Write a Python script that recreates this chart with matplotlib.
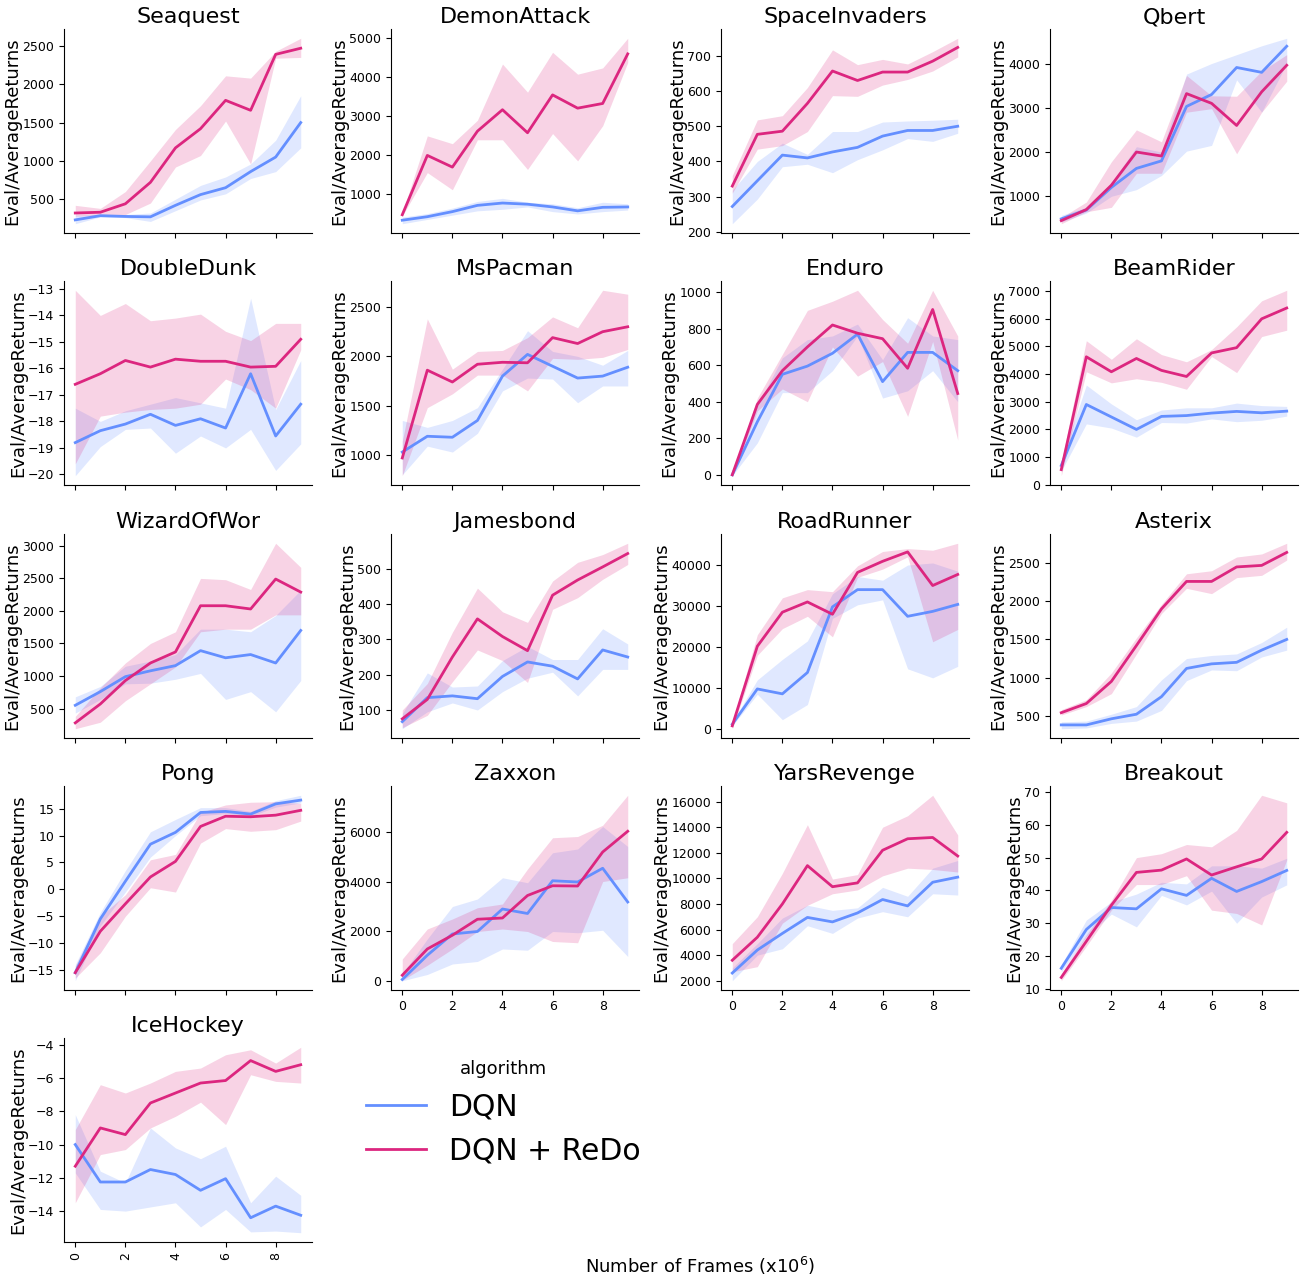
import matplotlib
matplotlib.use("Agg")
import matplotlib.pyplot as plt
from matplotlib.ticker import MultipleLocator

plt.rcParams['font.family'] = ['DejaVu Sans']

frames = list(range(10))
games = ["Seaquest", "DemonAttack", "SpaceInvaders", "Qbert",
         "DoubleDunk", "MsPacman", "Enduro", "BeamRider",
         "WizardOfWor", "Jamesbond", "RoadRunner", "Asterix",
         "Pong", "Zaxxon", "YarsRevenge", "Breakout",
         "IceHockey"]
algorithms = ["DQN", "DQN + ReDo"]
colors = {"DQN": "#648FFF", "DQN + ReDo": "#DC267F"}
ytick_step = {"Seaquest": 500, "DemonAttack": 1000, "SpaceInvaders": 100, "Qbert": 1000,
              "DoubleDunk": 1, "MsPacman": 500, "Enduro": 200, "BeamRider": 1000,
              "WizardOfWor": 500, "Jamesbond": 100, "RoadRunner": 10000, "Asterix": 500,
              "Pong": 5, "Zaxxon": 2000, "YarsRevenge": 2000, "Breakout": 10,
              "IceHockey": 2}

# ---- per-game data: mean, low, high for each algorithm ----
seaquest_dqn = [230, 285, 275, 270, 420, 560, 650, 860, 1050, 1500]
seaquest_dqn_lo = [180, 270, 260, 210, 350, 490, 570, 770, 860, 1170]
seaquest_dqn_hi = [290, 300, 300, 320, 500, 680, 790, 960, 1270, 1850]
seaquest_redo = [320, 330, 440, 720, 1170, 1420, 1790, 1660, 2390, 2470]
seaquest_redo_lo = [280, 290, 300, 450, 920, 1070, 1520, 960, 2340, 2350]
seaquest_redo_hi = [420, 380, 600, 1000, 1410, 1720, 2110, 2080, 2430, 2600]

demon_dqn = [340, 430, 560, 720, 780, 750, 680, 580, 670, 680]
demon_dqn_lo = [250, 360, 470, 580, 620, 680, 560, 500, 560, 600]
demon_dqn_hi = [420, 510, 650, 820, 900, 800, 760, 660, 800, 760]
demon_redo = [480, 2000, 1700, 2620, 3170, 2580, 3550, 3210, 3330, 4600]
demon_redo_lo = [450, 1560, 1120, 2400, 2400, 1640, 2560, 1860, 2760, 4380]
demon_redo_hi = [520, 2500, 2300, 2900, 4340, 3620, 4640, 4080, 4240, 5000]

space_dqn = [272, 345, 418, 410, 427, 440, 472, 488, 488, 500]
space_dqn_lo = [223, 293, 385, 392, 368, 405, 433, 465, 457, 480]
space_dqn_hi = [318, 400, 452, 420, 485, 485, 512, 515, 517, 520]
space_redo = [330, 477, 486, 565, 657, 630, 654, 654, 685, 724]
space_redo_lo = [310, 435, 445, 485, 587, 585, 617, 633, 657, 697]
space_redo_hi = [360, 518, 530, 610, 717, 675, 690, 677, 712, 750]

qbert_dqn = [490, 690, 1200, 1630, 1800, 3030, 3300, 3910, 3800, 4390]
qbert_dqn_lo = [420, 620, 1000, 1150, 1470, 2020, 2150, 3630, 2900, 4000]
qbert_dqn_hi = [570, 750, 1300, 2120, 2000, 3760, 4000, 4200, 4400, 4570]
qbert_redo = [450, 700, 1250, 2000, 1910, 3320, 3100, 2600, 3360, 3960]
qbert_redo_lo = [380, 650, 750, 1520, 1520, 2900, 2980, 1960, 2900, 3600]
qbert_redo_hi = [520, 870, 1780, 2500, 2230, 3730, 3270, 3260, 3830, 4200]

dunk_dqn = [-18.8, -18.35, -18.1, -17.73, -18.15, -17.9, -18.25, -16.2, -18.55, -17.35]
dunk_dqn_lo = [-20.05, -18.95, -18.3, -18.25, -19.2, -18.55, -19.0, -18.3, -19.85, -18.85]
dunk_dqn_hi = [-17.5, -18.0, -17.6, -17.35, -17.1, -17.3, -17.5, -13.35, -17.55, -15.7]
dunk_redo = [-16.6, -16.2, -15.7, -15.95, -15.65, -15.73, -15.73, -15.95, -15.92, -14.9]
dunk_redo_lo = [-19.6, -17.8, -17.65, -17.55, -17.5, -17.35, -16.4, -16.8, -17.5, -15.3]
dunk_redo_hi = [-13.05, -14.0, -13.55, -14.2, -14.1, -13.95, -14.6, -14.95, -14.3, -14.3]

pacman_dqn = [1030, 1190, 1180, 1350, 1800, 2020, 1900, 1780, 1800, 1890]
pacman_dqn_lo = [800, 1090, 1030, 1220, 1650, 1780, 1770, 1530, 1700, 1700]
pacman_dqn_hi = [1350, 1280, 1350, 1480, 1870, 2260, 2050, 2000, 1910, 2060]
pacman_redo = [970, 1860, 1740, 1920, 1940, 1935, 2190, 2130, 2250, 2300]
pacman_redo_lo = [790, 1480, 1620, 1810, 1810, 1650, 1980, 1970, 1990, 2070]
pacman_redo_hi = [1140, 2380, 1870, 2050, 2060, 2190, 2400, 2290, 2670, 2630]

enduro_dqn = [0, 290, 550, 595, 665, 770, 510, 670, 670, 570]
enduro_dqn_lo = [-5, 175, 450, 450, 570, 760, 420, 460, 570, 400]
enduro_dqn_hi = [5, 380, 640, 740, 760, 825, 630, 860, 760, 740]
enduro_redo = [0, 385, 570, 700, 820, 775, 745, 583, 905, 445]
enduro_redo_lo = [-5, 350, 470, 400, 700, 540, 620, 320, 730, 190]
enduro_redo_hi = [5, 420, 660, 900, 950, 1010, 850, 720, 1010, 760]

beam_dqn = [700, 2900, 2450, 2000, 2470, 2500, 2590, 2650, 2600, 2660]
beam_dqn_lo = [500, 2200, 2050, 1720, 2250, 2230, 2380, 2280, 2330, 2480]
beam_dqn_hi = [900, 3600, 2920, 2350, 2700, 2780, 2780, 2950, 2860, 2830]
beam_redo = [550, 4620, 4080, 4560, 4130, 3910, 4760, 4950, 5990, 6380]
beam_redo_lo = [330, 4080, 3680, 3830, 3700, 3450, 4630, 4050, 5350, 5580]
beam_redo_hi = [800, 5200, 4530, 5270, 4700, 4440, 4880, 5700, 6640, 7020]

wizard_dqn = [550, 760, 990, 1080, 1160, 1390, 1280, 1330, 1200, 1700]
wizard_dqn_lo = [430, 640, 880, 890, 950, 1040, 640, 760, 450, 930]
wizard_dqn_hi = [680, 840, 1150, 1230, 1330, 1720, 1720, 1680, 1930, 2320]
wizard_redo = [280, 570, 930, 1200, 1370, 2080, 2080, 2030, 2490, 2290]
wizard_redo_lo = [190, 290, 620, 880, 1140, 1680, 1720, 1720, 1940, 1940]
wizard_redo_hi = [380, 820, 1200, 1500, 1680, 2500, 2480, 2330, 3040, 2670]

bond_dqn = [67, 135, 140, 132, 195, 236, 224, 188, 270, 250]
bond_dqn_lo = [47, 95, 120, 100, 152, 190, 207, 140, 215, 215]
bond_dqn_hi = [90, 205, 165, 168, 240, 280, 243, 243, 330, 287]
bond_redo = [75, 130, 250, 358, 308, 268, 425, 468, 505, 543]
bond_redo_lo = [50, 85, 180, 270, 240, 178, 385, 418, 470, 512]
bond_redo_hi = [100, 175, 320, 445, 378, 348, 465, 518, 540, 572]

road_dqn = [1200, 9800, 8600, 13800, 29800, 34000, 34000, 27500, 28700, 30400]
road_dqn_lo = [800, 8500, 2300, 6000, 27000, 30300, 31500, 14700, 12500, 15300]
road_dqn_hi = [1700, 12000, 17000, 21500, 33000, 37200, 36300, 40000, 40500, 38500]
road_redo = [800, 20200, 28500, 31000, 28000, 38200, 40900, 43200, 35000, 37700]
road_redo_lo = [100, 18000, 24500, 27500, 22500, 37000, 39000, 42000, 21300, 24300]
road_redo_hi = [1600, 23000, 32000, 34000, 33500, 39800, 43300, 44000, 43600, 45300]

asterix_dqn = [380, 380, 460, 520, 750, 1120, 1180, 1200, 1360, 1500]
asterix_dqn_lo = [330, 340, 400, 430, 570, 960, 1100, 1090, 1270, 1360]
asterix_dqn_hi = [420, 430, 520, 620, 970, 1250, 1290, 1310, 1460, 1660]
asterix_redo = [540, 660, 950, 1420, 1900, 2260, 2260, 2450, 2470, 2640]
asterix_redo_lo = [510, 620, 790, 1310, 1840, 2170, 2100, 2310, 2340, 2540]
asterix_redo_hi = [580, 710, 1060, 1520, 1960, 2360, 2400, 2580, 2620, 2760]

pong_dqn = [-15.5, -5.5, 1.5, 8.4, 10.6, 14.3, 14.5, 14.0, 15.9, 16.6]
pong_dqn_lo = [-17.0, -6.8, -0.5, 6.0, 10.0, 13.7, 14.1, 13.6, 15.3, 16.1]
pong_dqn_hi = [-14.0, -4.3, 3.5, 10.7, 13.0, 15.2, 15.2, 14.5, 16.5, 17.5]
pong_redo = [-15.5, -7.8, -2.7, 2.3, 5.2, 11.7, 13.6, 13.5, 13.8, 14.7]
pong_redo_lo = [-16.5, -11.8, -5.0, 0.3, -0.5, 8.6, 11.3, 10.8, 11.1, 12.7]
pong_redo_hi = [-14.3, -5.0, -1.0, 5.5, 6.5, 14.3, 15.7, 16.2, 16.3, 16.0]

zaxxon_dqn = [80, 1050, 1900, 2000, 2900, 2720, 4030, 3980, 4530, 3180]
zaxxon_dqn_lo = [30, 280, 700, 800, 1300, 1250, 2000, 1950, 2050, 1000]
zaxxon_dqn_hi = [300, 1700, 3000, 3300, 4150, 3950, 5150, 5300, 6200, 5400]
zaxxon_redo = [250, 1300, 1850, 2490, 2540, 3440, 3830, 3820, 5180, 6010]
zaxxon_redo_lo = [50, 650, 1300, 2000, 2100, 2000, 1600, 1550, 4000, 4150]
zaxxon_redo_hi = [900, 2100, 2500, 2950, 3100, 4500, 5750, 5800, 6250, 7450]

yars_dqn = [2600, 4400, 5700, 6950, 6600, 7300, 8350, 7850, 9700, 10100]
yars_dqn_lo = [2000, 4000, 4500, 6300, 5700, 6900, 7400, 7000, 8800, 8700]
yars_dqn_hi = [3000, 4900, 6900, 7900, 7500, 7700, 9300, 8600, 10800, 11400]
yars_redo = [3600, 5400, 8000, 11000, 9350, 9650, 12200, 13100, 13200, 11750]
yars_redo_lo = [2700, 3100, 6500, 7900, 8800, 9100, 10200, 10800, 10700, 10500]
yars_redo_hi = [4900, 7000, 10400, 14200, 9950, 10300, 14000, 14900, 16500, 13400]

breakout_dqn = [16.3, 28.1, 34.8, 34.4, 40.5, 38.5, 43.7, 39.7, 42.7, 46.1]
breakout_dqn_lo = [15.2, 26.0, 32.8, 28.9, 38.5, 35.6, 39.8, 30.0, 38.0, 41.7]
breakout_dqn_hi = [17.3, 31.0, 36.5, 38.9, 42.5, 42.0, 47.5, 47.5, 46.8, 49.8]
breakout_redo = [13.5, 24.5, 35.5, 45.5, 46.2, 49.6, 44.7, 47.2, 49.6, 57.7]
breakout_redo_lo = [12.5, 23.0, 34.0, 41.8, 41.8, 44.5, 34.0, 33.0, 29.5, 49.3]
breakout_redo_hi = [14.7, 26.5, 37.0, 50.0, 51.2, 54.0, 53.3, 58.3, 69.0, 66.7]

hockey_dqn = [-10.0, -12.25, -12.25, -11.5, -11.8, -12.75, -12.05, -14.4, -13.7, -14.25]
hockey_dqn_lo = [-11.7, -13.9, -14.0, -13.75, -13.5, -14.95, -13.9, -15.25, -15.2, -15.3]
hockey_dqn_hi = [-8.2, -11.6, -12.3, -9.0, -10.2, -10.85, -10.1, -13.5, -11.9, -13.05]
hockey_redo = [-11.3, -9.0, -9.4, -7.5, -6.9, -6.3, -6.15, -4.95, -5.6, -5.2]
hockey_redo_lo = [-13.5, -10.6, -10.3, -9.0, -8.3, -7.45, -8.8, -5.8, -6.2, -6.3]
hockey_redo_hi = [-9.1, -6.4, -6.9, -6.3, -5.6, -5.4, -4.6, -4.3, -5.1, -4.15]

data = {
    "Seaquest": [(seaquest_dqn, seaquest_dqn_lo, seaquest_dqn_hi), (seaquest_redo, seaquest_redo_lo, seaquest_redo_hi)],
    "DemonAttack": [(demon_dqn, demon_dqn_lo, demon_dqn_hi), (demon_redo, demon_redo_lo, demon_redo_hi)],
    "SpaceInvaders": [(space_dqn, space_dqn_lo, space_dqn_hi), (space_redo, space_redo_lo, space_redo_hi)],
    "Qbert": [(qbert_dqn, qbert_dqn_lo, qbert_dqn_hi), (qbert_redo, qbert_redo_lo, qbert_redo_hi)],
    "DoubleDunk": [(dunk_dqn, dunk_dqn_lo, dunk_dqn_hi), (dunk_redo, dunk_redo_lo, dunk_redo_hi)],
    "MsPacman": [(pacman_dqn, pacman_dqn_lo, pacman_dqn_hi), (pacman_redo, pacman_redo_lo, pacman_redo_hi)],
    "Enduro": [(enduro_dqn, enduro_dqn_lo, enduro_dqn_hi), (enduro_redo, enduro_redo_lo, enduro_redo_hi)],
    "BeamRider": [(beam_dqn, beam_dqn_lo, beam_dqn_hi), (beam_redo, beam_redo_lo, beam_redo_hi)],
    "WizardOfWor": [(wizard_dqn, wizard_dqn_lo, wizard_dqn_hi), (wizard_redo, wizard_redo_lo, wizard_redo_hi)],
    "Jamesbond": [(bond_dqn, bond_dqn_lo, bond_dqn_hi), (bond_redo, bond_redo_lo, bond_redo_hi)],
    "RoadRunner": [(road_dqn, road_dqn_lo, road_dqn_hi), (road_redo, road_redo_lo, road_redo_hi)],
    "Asterix": [(asterix_dqn, asterix_dqn_lo, asterix_dqn_hi), (asterix_redo, asterix_redo_lo, asterix_redo_hi)],
    "Pong": [(pong_dqn, pong_dqn_lo, pong_dqn_hi), (pong_redo, pong_redo_lo, pong_redo_hi)],
    "Zaxxon": [(zaxxon_dqn, zaxxon_dqn_lo, zaxxon_dqn_hi), (zaxxon_redo, zaxxon_redo_lo, zaxxon_redo_hi)],
    "YarsRevenge": [(yars_dqn, yars_dqn_lo, yars_dqn_hi), (yars_redo, yars_redo_lo, yars_redo_hi)],
    "Breakout": [(breakout_dqn, breakout_dqn_lo, breakout_dqn_hi), (breakout_redo, breakout_redo_lo, breakout_redo_hi)],
    "IceHockey": [(hockey_dqn, hockey_dqn_lo, hockey_dqn_hi), (hockey_redo, hockey_redo_lo, hockey_redo_hi)],
}

W, H = 1303, 1280
fig = plt.figure(figsize=(W / 100, H / 100), dpi=100)

col_left = [64, 391, 721, 1050]
ax_w = 248
row_bottom = [233, 485, 738, 990, 1242]
ax_h = 204

handles = {}
for i, game in enumerate(games):
    r, c = divmod(i, 4)
    ax = fig.add_axes([col_left[c] / W, 1 - row_bottom[r] / H, ax_w / W, ax_h / H])
    for alg, (m, lo, hi) in zip(algorithms, data[game]):
        ax.fill_between(frames, lo, hi, color=colors[alg], alpha=0.2, linewidth=0)
        ln, = ax.plot(frames, m, color=colors[alg], linewidth=2, label=alg)
        handles[alg] = ln
    ax.set_title(game, fontsize=16, pad=4)
    ax.set_ylabel("Eval/AverageReturns", fontsize=13, labelpad=0.5)
    ax.spines['top'].set_visible(False)
    ax.spines['right'].set_visible(False)
    ax.set_xticks([0, 2, 4, 6, 8])
    ax.yaxis.set_major_locator(MultipleLocator(ytick_step[game]))
    ax.tick_params(labelsize=9)
    bottom_of_col = (r == 4) or (r == 3 and c > 0)
    if not bottom_of_col:
        ax.tick_params(labelbottom=False)
    if game == "IceHockey":
        ax.tick_params(axis='x', labelrotation=90)

fig.text(0.537, 1 - 1266 / H, "Number of Frames (x10$^6$)", ha='center', va='center', fontsize=13)

leg = fig.legend([handles[a] for a in algorithms], algorithms, title="algorithm",
                 loc='upper left', bbox_to_anchor=(339 / W, 1 - 1033 / H),
                 frameon=False, fontsize=21.5, title_fontsize=13, handlelength=2.0)

fig.savefig("out.png", dpi=100)
